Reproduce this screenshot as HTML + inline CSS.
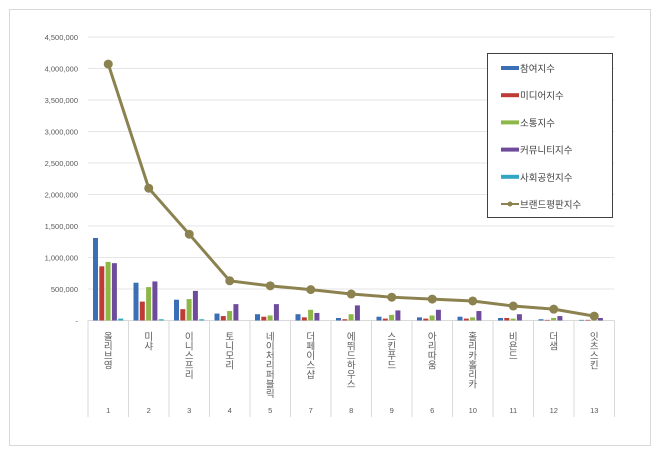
<!DOCTYPE html>
<html><head><meta charset="utf-8"><style>
body{margin:0;background:#fff;}
svg{display:block;font-family:"Liberation Sans","Noto Sans CJK KR",sans-serif;}
</style></head><body>
<svg id="c" width="660" height="455" xmlns="http://www.w3.org/2000/svg">
<rect x="9.5" y="9.5" width="641" height="436" fill="#fff" stroke="#d9d9d9"/>
</svg>
<script>
const s=document.getElementById('c');let h='';
const y0=320.5,k=31.5/500000,L=88,W=40.5;
const Y=v=>y0-v*k;
for(let i=0;i<=9;i++){const y=Y(i*500000);
 if(i>0)h+=`<line x1="${L}" x2="${L+13*W}" y1="${y}" y2="${y}" stroke="#e6e6e6"/>`;
 h+=`<text x="78" y="${y+3}" font-size="7.5" fill="#595959" text-anchor="end">${i==0?'-':(i*500000).toLocaleString('en-US')}</text>`;}
h+=`<line x1="${L}" x2="${L+13*W}" y1="${y0}" y2="${y0}" stroke="#d9d9d9"/>`;
for(let i=0;i<=13;i++){const x=L+i*W;h+=`<line x1="${x}" x2="${x}" y1="${y0}" y2="417" stroke="#d9d9d9"/>`;}
const names=['올리브영','미샤','이니스프리','토니모리','네이처리퍼블릭','더페이스샵','에뛰드하우스','스킨푸드','아리따움','홀리카홀리카','비욘드','더샘','잇츠스킨'];
const nums=[1,2,3,4,5,7,8,9,6,10,11,12,13];
const bars=[[1.31,.86,.93,.91,.03],[.6,.3,.53,.62,.02],[.33,.18,.34,.47,.02],[.11,.07,.15,.26,0],[.1,.06,.08,.26,0],[.1,.05,.17,.12,0],[.04,.02,.1,.24,0],[.06,.03,.09,.16,0],[.05,.03,.08,.17,0],[.06,.03,.05,.15,0],[.04,.04,.03,.1,0],[.02,.01,.04,.07,0],[.01,.01,.02,.04,0]];
const cols=['#3a6fb6','#be3b36','#8db848','#6e4c9b','#32a7c3'];
const line=[4.07,2.1,1.37,.63,.55,.49,.42,.37,.34,.31,.23,.18,.07];
let pts=[];
for(let i=0;i<13;i++){const x0=L+i*W;
 bars[i].forEach((v,j)=>{if(v>0){const yy=Y(v*1e6);h+=`<rect x="${x0+5+j*6.3}" y="${yy}" width="5" height="${y0-yy}" fill="${cols[j]}"/>`;}});
 const cx=x0+W/2;pts.push(cx+','+Y(line[i]*1e6));
 let t='';[...names[i]].forEach((ch,n)=>{t+=`<text x="${cx}" y="${340+n*9.5}" font-size="9.5" fill="#595959" text-anchor="middle">${ch}</text>`;});h+=t;
 h+=`<text x="${cx}" y="413" font-size="7.5" fill="#595959" text-anchor="middle">${nums[i]}</text>`;}
h+=`<polyline points="${pts.join(' ')}" fill="none" stroke="#8c8250" stroke-width="3"/>`;
pts.forEach(p=>{const [x,y]=p.split(',');h+=`<circle cx="${x}" cy="${y}" r="4.5" fill="#8c8250"/>`;});
h+=`<rect x="487.5" y="53.5" width="125" height="164" fill="#fff" stroke="#404040"/>`;
const lg=['참여지수','미디어지수','소통지수','커뮤니티지수','사회공헌지수','브랜드평판지수'];
lg.forEach((t,i)=>{const y=68+i*27.2;
 if(i<5)h+=`<rect x="501" y="${y-2}" width="18" height="4" fill="${cols[i]}"/>`;
 else h+=`<line x1="501" x2="519" y1="${y}" y2="${y}" stroke="#8c8250" stroke-width="2"/><circle cx="510" cy="${y}" r="2.5" fill="#8c8250"/>`;
 h+=`<text x="520" y="${y+4}" font-size="9.5" fill="#404040">${t}</text>`;});
s.innerHTML+=h;
</script>
</body></html>
